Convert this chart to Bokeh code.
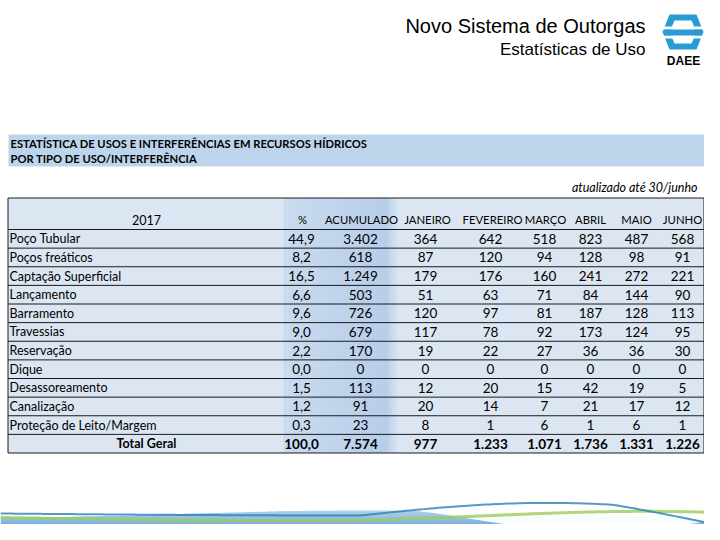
import numpy as np
from bokeh.plotting import figure
from bokeh.models import Range1d, ColumnDataSource
from bokeh.core.properties import value
from bokeh.embed import file_html
from bokeh.resources import INLINE

# ---------------- data ----------------
year_label = "2017"
categories = ["Poço Tubular", "Poços freáticos", "Captação Superficial", "Lançamento",
              "Barramento", "Travessias", "Reservação", "Dique", "Desassoreamento",
              "Canalização", "Proteção de Leito/Margem"]
total_label = "Total Geral"
col_headers = ["%", "ACUMULADO", "JANEIRO", "FEVEREIRO", "MARÇO", "ABRIL", "MAIO", "JUNHO"]
pct = [44.9, 8.2, 16.5, 6.6, 9.6, 9.0, 2.2, 0.0, 1.5, 1.2, 0.3]
acumulado = [3402, 618, 1249, 503, 726, 679, 170, 0, 113, 91, 23]
janeiro = [364, 87, 179, 51, 120, 117, 19, 0, 12, 20, 8]
fevereiro = [642, 120, 176, 63, 97, 78, 22, 0, 20, 14, 1]
marco = [518, 94, 160, 71, 81, 92, 27, 0, 15, 7, 6]
abril = [823, 128, 241, 84, 187, 173, 36, 0, 42, 21, 1]
maio = [487, 98, 272, 144, 128, 124, 36, 0, 19, 17, 6]
junho = [568, 91, 221, 90, 113, 95, 30, 0, 5, 12, 1]
pct_total = 100.0
totals = [7574, 977, 1233, 1071, 1736, 1331, 1226]

title1 = "Novo Sistema de Outorgas"
title2 = "Estatísticas de Uso"
band1 = "ESTATÍSTICA DE USOS E INTERFERÊNCIAS EM RECURSOS HÍDRICOS"
band2 = "POR TIPO DE USO/INTERFERÊNCIA"
updated = "atualizado até 30/junho"

# ---------------- helpers ----------------
def fmt_int(v):
    return f"{v:,}".replace(",", ".")

def fmt_pct(v):
    return f"{v:.1f}".replace(".", ",")

W, H = 704, 524
p = figure(width=W, height=H, output_backend="svg", toolbar_location=None,
           x_range=Range1d(0, W), y_range=Range1d(H, 0),
           min_border=0, outline_line_color=None, background_fill_color="white",
           border_fill_color="white")
p.axis.visible = False
p.grid.visible = False

ARIAL = value("Liberation Sans")
CAL = value("Lato")

# ---- titles ----
p.text(x=[645], y=[25], text=[title1], text_font=ARIAL, text_font_size="20px",
       text_align="right", text_baseline="middle", text_color="black")
p.text(x=[645], y=[49], text=[title2], text_font=ARIAL, text_font_size="17px",
       text_align="right", text_baseline="middle", text_color="black")

# ---- logo ----
blue = "#2b9bd6"
p.patch(x=[669, 696, 703, 696, 669, 662], y=[14, 14, 31.5, 49, 49, 31.5], fill_color=blue, line_color=None)
p.patch(x=[674, 691, 696, 691, 674, 669], y=[20, 20, 31.5, 43, 43, 31.5], fill_color="white", line_color=None)
p.quad(left=[660], right=[704], top=[26], bottom=[29], fill_color="white", line_color=None)
p.quad(left=[660], right=[704], top=[35], bottom=[38], fill_color="white", line_color=None)
p.quad(left=[664], right=[701.5], top=[29], bottom=[35], fill_color=blue, line_color=None)
p.text(x=[683], y=[60], text=["DAEE"], text_font=ARIAL, text_font_size="12px",
       text_font_style="bold", text_align="center", text_baseline="middle", text_color="black")

# ---- blue band ----
p.quad(left=[8], right=[704], top=[134], bottom=[166], fill_color="#bdd5ea", line_color=None)
p.text(x=[10], y=[143], text=[band1], text_font=CAL, text_font_size="11.2px", text_font_style="bold",
       text_align="left", text_baseline="middle", text_color="black")
p.text(x=[10], y=[158], text=[band2], text_font=CAL, text_font_size="11.2px", text_font_style="bold",
       text_align="left", text_baseline="middle", text_color="black")
p.text(x=[697], y=[187], text=[updated], text_font=CAL, text_font_size="12.5px", text_font_style="italic",
       text_align="right", text_baseline="middle", text_color="black")

# ---- table background ----
T_TOP, T_BOT, T_L, T_R = 197.5, 452.5, 7.5, 703.5
HDR_BOT = 229.0
ROW_H = (T_BOT - HDR_BOT) / (len(categories) + 1)
p.quad(left=[T_L], right=[T_R], top=[T_TOP], bottom=[T_BOT], fill_color="#dce6f2", line_color=None)

# gradient band behind % / ACUMULADO
n = 40
xs = np.linspace(283, 398, n + 1)
c0 = np.array([0xc9, 0xdb, 0xef])
c1 = np.array([0xb6, 0xcd, 0xe9])
cols = []
for i in range(n):
    t = i / (n - 1)
    if t < 0.9:
        c = c0 + (c1 - c0) * (t / 0.9)
    else:
        c = c1 + (np.array([0xd6, 0xe3, 0xf2]) - c1) * ((t - 0.9) / 0.1)
    cols.append("#%02x%02x%02x" % tuple(int(round(v)) for v in c))
p.quad(left=xs[:-1], right=xs[1:] + 0.3, top=[T_TOP] * n, bottom=[T_BOT] * n,
       fill_color=cols, line_color=None)

# row separators
ys = [HDR_BOT + ROW_H * k for k in range(len(categories) + 1)]
p.segment(x0=[T_L] * len(ys), x1=[T_R] * len(ys), y0=ys, y1=ys, line_color="#1a1a1a", line_width=1)
p.quad(left=[T_L], right=[T_R], top=[T_TOP], bottom=[T_BOT], fill_color=None,
       line_color="#1a1a1a", line_width=1)

# ---- header texts ----
col_x = [301, 360, 425, 490, 544, 590, 636, 682]
hdr_x = [302, 361, 427, 492, 545, 590, 636, 682]
HDR_Y = 219
p.text(x=[146], y=[HDR_Y], text=[year_label], text_font=CAL, text_font_size="12.5px",
       text_align="center", text_baseline="middle", text_color="black")
p.text(x=hdr_x, y=[HDR_Y] * len(col_headers), text=col_headers, text_font=CAL, text_font_size="11.3px",
       text_align="center", text_baseline="middle", text_color="black")

# ---- rows ----
row_y = [HDR_BOT + ROW_H * (i + 0.5) for i in range(len(categories))]
p.text(x=[9] * len(categories), y=row_y, text=categories, text_font=CAL, text_font_size="12.5px",
       text_align="left", text_baseline="middle", text_color="black")

series = [acumulado, janeiro, fevereiro, marco, abril, maio, junho]
tx, ty, tt = [], [], []
for i in range(len(categories)):
    tx.append(col_x[0]); ty.append(row_y[i]); tt.append(fmt_pct(pct[i]))
    for j, s in enumerate(series):
        tx.append(col_x[j + 1]); ty.append(row_y[i]); tt.append(fmt_int(s[i]))
p.text(x="x", y="y", text="t", source=ColumnDataSource(dict(x=tx, y=ty, t=tt)),
       text_font=CAL, text_font_size="13.5px", text_align="center", text_baseline="middle",
       text_color="black")

# total row
tot_y = HDR_BOT + ROW_H * (len(categories) + 0.5)
p.text(x=[146], y=[tot_y], text=[total_label], text_font=CAL, text_font_size="12.5px",
       text_font_style="bold", text_align="center", text_baseline="middle", text_color="black")
p.text(x=col_x, y=[tot_y] * len(col_x), text=[fmt_pct(pct_total)] + [fmt_int(v) for v in totals],
       text_font=CAL, text_font_size="13.5px", text_font_style="bold", text_align="center",
       text_baseline="middle", text_color="black")

# ---- bottom wave decoration ----
xw = np.linspace(0, 720, 200)
nb = 12
ybs = np.linspace(508, 540, nb + 1)
b0 = np.array([0xb4, 0xd4, 0xec])
b1 = np.array([0x3a, 0x8c, 0xcb])
top_curve = 517 - 7 * np.sin(np.pi * np.clip(xw / 720, 0, 1)) ** 2
for k in range(nb):
    t = k / (nb - 1)
    c = b0 + (b1 - b0) * t
    col = "#%02x%02x%02x" % tuple(int(round(v)) for v in c)
    lo = np.maximum(top_curve, ybs[k])
    hi = np.maximum(top_curve, ybs[k + 1] + 0.5)
    p.varea(x=xw, y1=lo, y2=hi, fill_color=col)
xs2 = np.linspace(420, 720, 120)
t2 = (xs2 - 420) / 300
upper = 507 + 3 * np.sin(np.pi * t2) - 2 * t2
lower = 511 + 20 * np.sin(np.pi * t2 * 0.85) ** 1.2
p.varea(x=xs2, y1=upper, y2=lower, fill_color="white", fill_alpha=0.95)
xg = np.linspace(0, 720, 200)
tg = xg / 720
green_y = 517 + 3 * np.sin(np.pi * tg * 1.3) - 14 * np.clip(tg - 0.45, 0, None) * np.sin(np.pi * np.clip((tg - 0.45) / 0.55, 0, 1) * 0.9)
p.line(xg, green_y, line_color="#9ccc5a", line_width=3, line_alpha=0.8)
teal_y = 513 + 2 * np.sin(np.pi * tg) - 12 * np.sin(np.pi * np.clip((tg - 0.5) / 0.5, 0, 1)) + 12 * np.clip((tg - 0.85) / 0.15, 0, 1)
p.line(xg, teal_y, line_color="#2a7fb5", line_width=2, line_alpha=0.8)

open("out.html", "w").write(file_html(p, INLINE))
